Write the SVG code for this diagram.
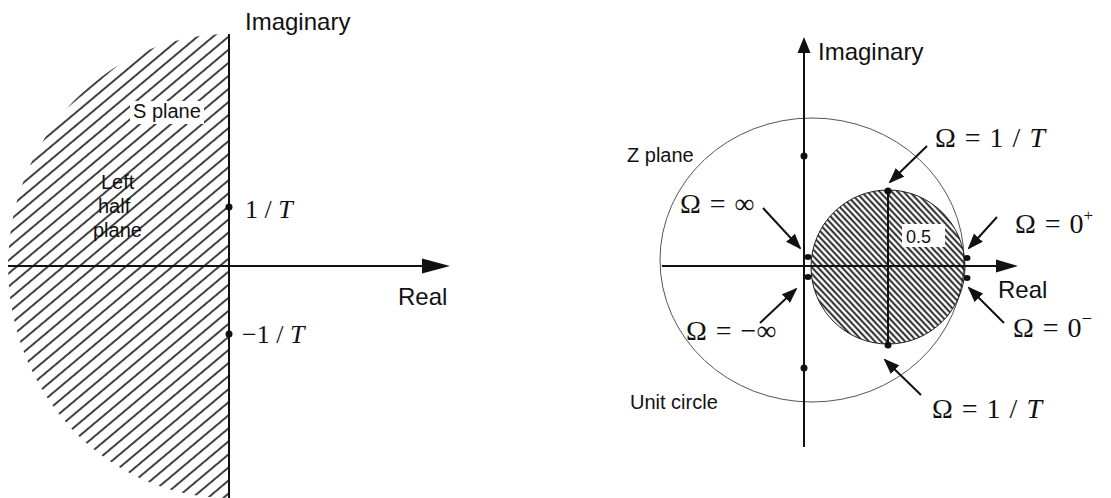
<svg xmlns="http://www.w3.org/2000/svg" width="1111" height="498" viewBox="0 0 1111 498">
<style>
.sans{font-family:"Liberation Sans",Arial,sans-serif;fill:#111}
.serif{font-family:"Liberation Serif","Times New Roman",serif;fill:#111;font-size:26px}
.om{font-family:"Liberation Serif","Times New Roman",serif;fill:#111;font-size:28px;word-spacing:2px}
.ax{stroke:#111;stroke-width:2;fill:none}
.arr{stroke:#111;stroke-width:2;fill:none;marker-end:url(#ah)}
.dot{fill:#111}
</style>
<defs>
<pattern id="hatchL" patternUnits="userSpaceOnUse" width="20" height="10" patternTransform="rotate(-40)">
<line x1="0" y1="5" x2="20" y2="5" stroke="#111" stroke-width="1.6"/>
</pattern>
<pattern id="hatchR" patternUnits="userSpaceOnUse" width="20" height="4.4" patternTransform="rotate(47)">
<line x1="0" y1="2.2" x2="20" y2="2.2" stroke="#111" stroke-width="1.8"/>
</pattern>
<marker id="ah" markerUnits="userSpaceOnUse" markerWidth="16" markerHeight="12" refX="14" refY="6" orient="auto">
<path d="M0,0 L16,6 L0,12 z" fill="#111"/>
</marker>
</defs>
<rect width="1111" height="498" fill="#fff"/>

<g id="s-plane">
<path d="M229,34 A221,232 0 0 0 229,498 Z" fill="url(#hatchL)"/>
<rect x="130" y="101" width="74" height="23" fill="#fff"/>
<text class="sans" x="133" y="118" font-size="20">S plane</text>
<text class="sans" x="101" y="189" font-size="20">Left</text>
<text class="sans" x="98" y="213" font-size="20">half</text>
<text class="sans" x="93" y="237" font-size="20">plane</text>
</g>

<g id="s-labels">
<text class="sans" x="245" y="30" font-size="24">Imaginary</text>
<text class="sans" x="398" y="305" font-size="24">Real</text>
<circle class="dot" cx="229" cy="207" r="3.5"/>
<text class="serif" x="245" y="218">1 / <tspan font-style="italic">T</tspan></text>
<circle class="dot" cx="229" cy="334" r="3.5"/>
<text class="serif" x="242" y="343">−1 / <tspan font-style="italic">T</tspan></text>
</g>

<g id="z-plane">
<ellipse cx="812" cy="260" rx="152" ry="142" fill="none" stroke="#555" stroke-width="1"/>
<circle cx="888" cy="267" r="77" fill="url(#hatchR)" stroke="#222" stroke-width="1"/>
<line x1="888" y1="191" x2="888" y2="345" class="ax"/>
<rect x="902" y="224" width="43" height="23" fill="#fff"/>
<text class="sans" x="906" y="243" font-size="18">0.5</text>
<circle class="dot" cx="888" cy="191" r="3.5"/>
<circle class="dot" cx="888" cy="345" r="3.5"/>
<circle class="dot" cx="804" cy="156" r="3.5"/>
<circle class="dot" cx="804" cy="368" r="3.5"/>
<ellipse class="dot" cx="808" cy="257" rx="3.5" ry="3"/>
<ellipse class="dot" cx="808" cy="277" rx="3.5" ry="3"/>
<ellipse class="dot" cx="967" cy="258" rx="3.5" ry="3"/>
<ellipse class="dot" cx="967" cy="278" rx="3.5" ry="3"/>
<text class="sans" x="627" y="162" font-size="20">Z plane</text>
<text class="sans" x="630" y="409" font-size="20">Unit circle</text>
<text class="sans" x="818" y="60" font-size="24">Imaginary</text>
<text class="sans" x="998" y="298" font-size="24">Real</text>
</g>

<g id="z-labels">
<text class="om" x="935" y="147">Ω = 1 / <tspan font-style="italic">T</tspan></text>
<text class="om" x="680" y="213">Ω = ∞</text>
<text class="om" x="1015" y="233">Ω = 0<tspan font-size="17" dy="-12">+</tspan></text>
<text class="om" x="1013" y="337">Ω = 0<tspan font-size="19" dy="-12">−</tspan></text>
<text class="om" x="686" y="340">Ω = −∞</text>
<text class="om" x="932" y="418">Ω = 1 / <tspan font-style="italic">T</tspan></text>
</g>

<g id="connectors">
<line class="ax" x1="229" y1="34" x2="229" y2="498"/>
<line class="ax" x1="8" y1="266" x2="424" y2="266"/>
<polygon points="422,258.5 450,266 422,273.5" fill="#111"/>
<line class="ax" x1="804" y1="50" x2="804" y2="447"/>
<polygon points="797.5,53 804,37 810.5,53" fill="#111"/>
<line class="ax" x1="662" y1="266" x2="1000" y2="266"/>
<polygon points="996,259.5 1018,266 996,272.5" fill="#111"/>
<line class="arr" x1="927" y1="146" x2="890" y2="182"/>
<line class="arr" x1="763" y1="208" x2="800" y2="248"/>
<line class="arr" x1="997" y1="217" x2="969" y2="248"/>
<line class="arr" x1="1004" y1="323" x2="969" y2="288"/>
<line class="arr" x1="760" y1="323" x2="796" y2="289"/>
<line class="arr" x1="921" y1="395" x2="885" y2="360"/>
</g>
</svg>
